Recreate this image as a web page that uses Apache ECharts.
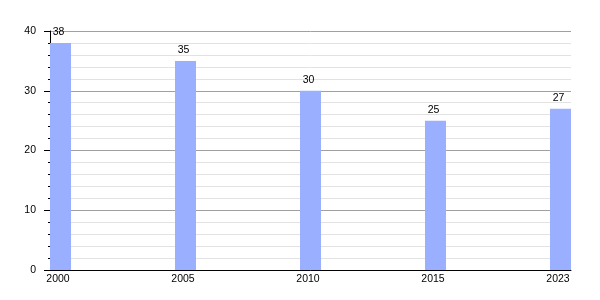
<!DOCTYPE html>
<html>
<head>
<meta charset="utf-8">
<script src="https://cdn.jsdelivr.net/npm/echarts@6/dist/echarts.min.js"></script>
<style>html,body{margin:0;padding:0;background:#fff;}#c{width:600px;height:300px;}</style>
</head>
<body>
<div id="c"></div>
<script>
const years = ['2000', '2005', '2010', '2015', '2023'];
const values = [38, 35, 30, 25, 27];
const yMin = 0, yMax = 40, yStep = 10;

const chart = echarts.init(document.getElementById('c'), null, {renderer: 'canvas'});
const font = 'Liberation Sans, Arial, sans-serif';
chart.setOption({
  animation: false,
  backgroundColor: '#ffffff',
  grid: [
    {left: 50, right: 29, top: 31, bottom: 30},
    {left: 60.5, right: 39.5, top: 31, bottom: 30}
  ],
  xAxis: [
    {
      type: 'value', gridIndex: 0, min: 0, max: 1,
      axisLine: {show: true, lineStyle: {color: '#000', width: 1}},
      axisTick: {show: false}, axisLabel: {show: false}, splitLine: {show: false}
    },
    {
      type: 'category', gridIndex: 1, data: years, boundaryGap: false,
      axisLine: {show: false}, axisTick: {show: false}, splitLine: {show: false},
      axisLabel: {color: '#000', fontSize: 10.5, fontFamily: font, margin: 4, padding: [0, 5, 0, 0]}
    }
  ],
  yAxis: [
    {
      type: 'value', gridIndex: 0, min: yMin, max: yMax, interval: yStep,
      axisLine: {show: true, lineStyle: {color: '#000', width: 1}},
      axisTick: {show: true, length: 6, lineStyle: {color: '#000'}},
      minorTick: {show: true, splitNumber: 5, length: 2, lineStyle: {color: '#000'}},
      splitLine: {show: true, lineStyle: {color: '#a0a0a0', width: 1}},
      minorSplitLine: {show: true, lineStyle: {color: '#e2e2e2', width: 1}},
      axisLabel: {color: '#000', fontSize: 10.5, fontFamily: font, margin: 14}
    },
    {
      type: 'value', gridIndex: 1, min: yMin, max: yMax, interval: yStep, show: false,
      splitLine: {show: false}
    }
  ],
  series: [{
    type: 'bar', xAxisIndex: 1, yAxisIndex: 1,
    data: values, barWidth: 21,
    itemStyle: {color: '#9aafff'},
    label: {show: true, position: 'top', distance: 5, offset: [-2, 0], color: '#000', fontSize: 10.5, fontFamily: font}
  }]
});
</script>
</body>
</html>
